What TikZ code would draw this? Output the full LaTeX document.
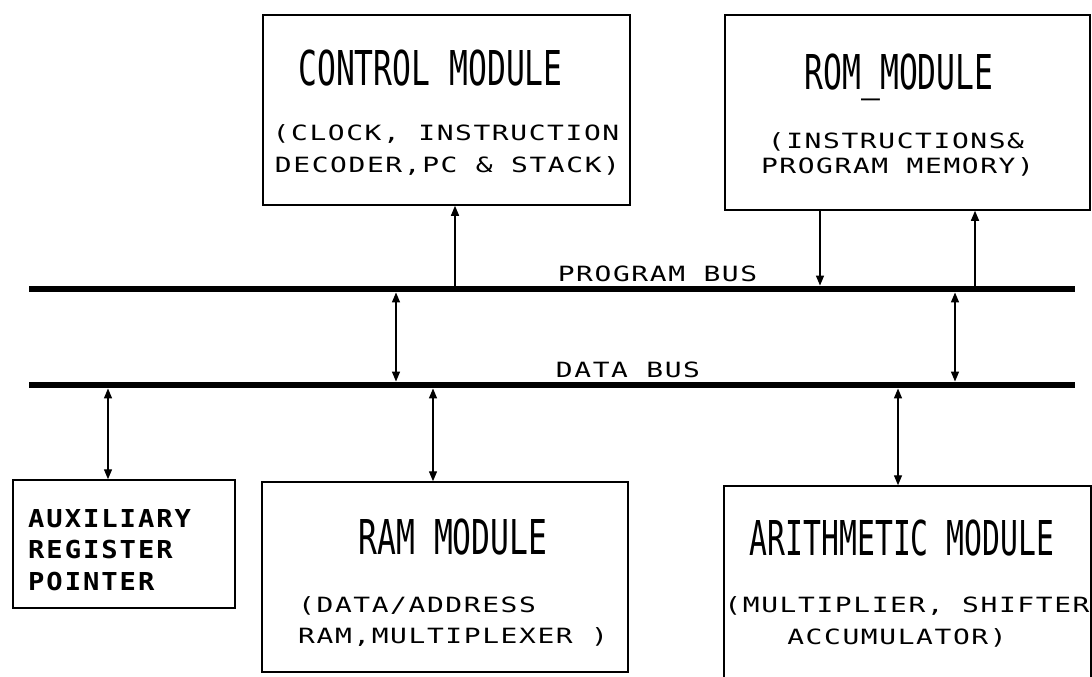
\documentclass[tikz,border=0pt]{standalone}
\usepackage{fontspec}
\usetikzlibrary{arrows.meta}
% plotter-like lettering: condensed titles, spaced-out captions
\newfontfamily\titlefont[FakeStretch=0.654]{DejaVu Sans Mono}
\newfontfamily\titlenarrow[FakeStretch=0.62]{DejaVu Sans Mono}
\newfontfamily\capfont[FakeStretch=1.33,LetterSpace=7.6]{DejaVu Sans Mono}
\newfontfamily\auxfont[FakeStretch=1.1,LetterSpace=7.9]{DejaVu Sans Mono}
\begin{document}
\begin{tikzpicture}[x=1pt,y=-1pt,
  modbox/.style={draw, line width=1.5pt, inner sep=0pt},
  bus/.style={fill=black, inner sep=0pt, minimum height=6.5pt},
  link/.style={line width=1.4pt},
  tipped/.style={link, -{Triangle[length=10pt,width=8pt]}},
  bothtipped/.style={link, {Triangle[length=10pt,width=8pt]}-{Triangle[length=10pt,width=8pt]}},
  title/.style={anchor=base, inner sep=0pt, font=\titlefont\fontsize{48}{48}\selectfont},
  caption/.style={anchor=base, inner sep=0pt, font=\capfont\fontsize{21}{21}\selectfont},
  auxtext/.style={anchor=base west, inner sep=0pt, font=\auxfont\bfseries\fontsize{24.7}{24.7}\selectfont},
]
\clip (0,0) rectangle (1092,677);
\fill[white] (0,0) rectangle (1092,677);

% module boxes
\node[modbox, minimum width=367pt, minimum height=190pt] (ctrl)  at (446.5,110) {};
\node[modbox, minimum width=365pt, minimum height=195pt] (rom)   at (907.5,112.5) {};
\node[modbox, minimum width=222pt, minimum height=128pt] (aux)   at (124,544) {};
\node[modbox, minimum width=366pt, minimum height=190pt] (ram)   at (445,577) {};
\node[modbox, minimum width=367pt, minimum height=240pt] (arith) at (907.5,606) {};

% buses
\node[bus, minimum width=1046pt] (pbus) at (552,289) {};
\node[bus, minimum width=1046pt] (dbus) at (552,385) {};

% connector columns
\coordinate (cxctrl)  at (455,0);
\coordinate (cxromdn) at (820,0);
\coordinate (cxromup) at (975,0);
\coordinate (cxpdl)   at (396,0);
\coordinate (cxpdr)   at (955,0);
\coordinate (cxaux)   at (108,0);
\coordinate (cxram)   at (433,0);
\coordinate (cxalu)   at (898,0);

% connectors
\draw[tipped] (pbus.north -| cxctrl) -- (ctrl.south -| cxctrl);
\draw[tipped] (rom.south -| cxromdn) -- (pbus.north -| cxromdn);
\draw[tipped] (pbus.north -| cxromup) -- (rom.south -| cxromup);
\draw[bothtipped] (pbus.south -| cxpdl) -- (dbus.north -| cxpdl);
\draw[bothtipped] (pbus.south -| cxpdr) -- (dbus.north -| cxpdr);
\draw[bothtipped] (dbus.south -| cxaux) -- (aux.north -| cxaux);
\draw[bothtipped] (dbus.south -| cxram) -- (ram.north -| cxram);
\draw[bothtipped] (dbus.south -| cxalu) -- (arith.north -| cxalu);

% labels
\node[title]   (ctrl-t)  at (430.5,85)  {CONTROL MODULE};
\node[caption] (ctrl-a)  at (446,140)   {(CLOCK, INSTRUCTION};
\node[caption] (ctrl-b)  at (447.5,172) {DECODER,PC \& STACK)};

\node[title]   (rom-t)   at (899,89)    {ROM\_MODULE};
\node[caption] (rom-a)   at (896,148)   {(INSTRUCTIONS\&};
\node[caption] (rom-b)   at (897.5,173) {PROGRAM MEMORY)};

\node[caption] (pbus-l)  at (657.5,281) {PROGRAM BUS};
\node[caption] (dbus-l)  at (628,377)   {DATA BUS};

\node[auxtext] (aux-a)   at (28,527)    {AUXILIARY};
\node[auxtext] (aux-b)   at (28,558)    {REGISTER};
\node[auxtext] (aux-c)   at (28,590)    {POINTER};

\node[title]   (ram-t)   at (453,554)   {RAM MODULE};
\node[caption, anchor=base west] (ram-a) at (298,612) {(DATA/ADDRESS};
\node[caption, anchor=base west] (ram-b) at (298,643) {RAM,MULTIPLEXER )};

\node[title, font=\titlenarrow\fontsize{48}{48}\selectfont] (alu-t) at (902,555) {ARITHMETIC MODULE};
\node[caption] (alu-a)   at (907,612)   {(MULTIPLIER, SHIFTER};
\node[caption] (alu-b)   at (897,644)   {ACCUMULATOR)};
\end{tikzpicture}
\end{document}
